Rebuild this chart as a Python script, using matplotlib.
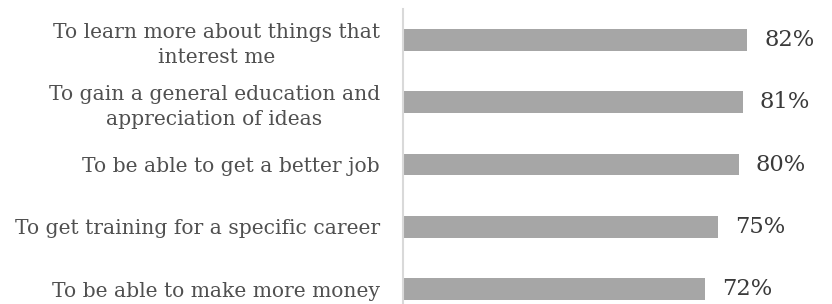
import matplotlib
matplotlib.use("Agg")
import matplotlib.pyplot as plt

# Reasons for going to college (share of respondents)
reasons = [
    "To learn more about things that\ninterest me",
    "To gain a general education and\nappreciation of ideas",
    "To be able to get a better job",
    "To get training for a specific career",
    "To be able to make more money",
]
shares = [82, 81, 80, 75, 72]

plt.rcParams["font.family"] = ["DejaVu Serif"]

W, H = 832, 304
fig = plt.figure(figsize=(W / 100, H / 100), dpi=100)
# axes placed in pixel terms: left spine at x=403, top at y=9
ax = fig.add_axes([403 / W, 0, 1 - 403 / W, 1 - 9 / H])

y = list(range(len(reasons)))
ax.barh(y, shares, height=0.35, color="#a6a6a6")

# value labels
for yi, v in zip(y, shares):
    ax.annotate(f"{v}%", xy=(v, yi), xytext=(12, 0), textcoords="offset points",
                va="center", ha="left", fontsize=16.3, color="#3a3a3a")

ax.set_xlim(0, (W - 403) / 4.2)
ax.set_ylim(4.24, -0.5)

ax.set_yticks(y)
ax.set_yticklabels(reasons, fontsize=14.6, color="#505050", ha="right",
                   multialignment="center", linespacing=1.38)
ax.tick_params(axis="y", length=0, pad=16.5)
ax.set_xticks([])

for s in ["top", "right", "bottom"]:
    ax.spines[s].set_visible(False)
ax.spines["left"].set_color("#d9d9d9")
ax.spines["left"].set_linewidth(1.5)

fig.savefig("out.png", dpi=100)
